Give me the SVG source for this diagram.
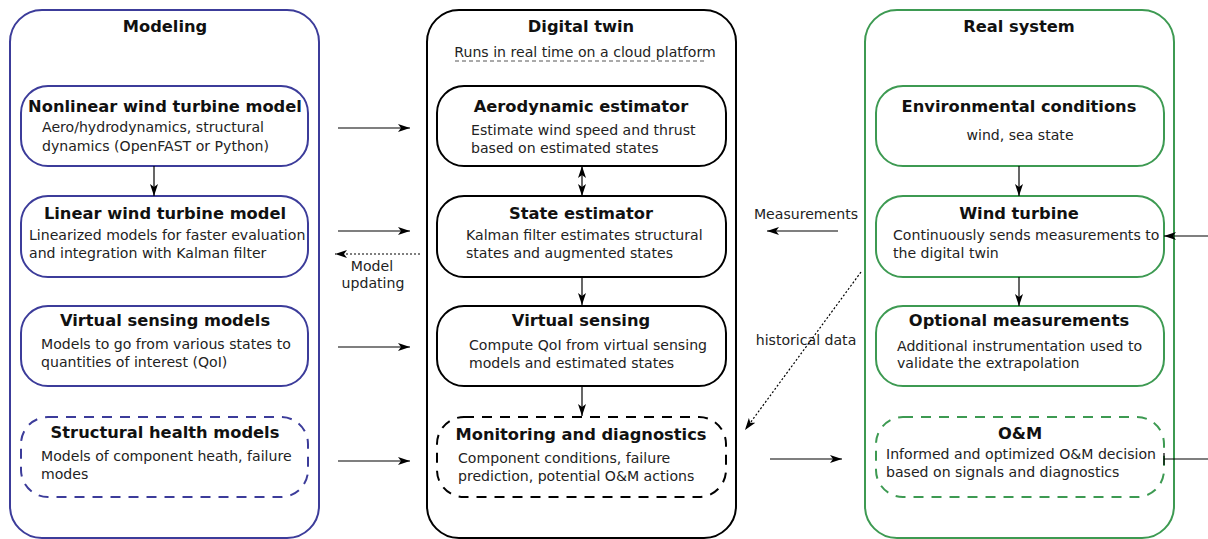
<svg xmlns="http://www.w3.org/2000/svg" width="1208" height="539" viewBox="0 0 1208 539">
<style>
text{font-family:"DejaVu Sans","Liberation Sans",sans-serif;fill:#111}
.h{font-weight:bold;font-size:16.3px;text-anchor:middle}
.b{font-size:14.1px;fill:#222}
.c{text-anchor:middle}
.blue{fill:none;stroke:#3c3c9a;stroke-width:2}
.green{fill:none;stroke:#3d9a52;stroke-width:2}
.black{fill:none;stroke:#000;stroke-width:2}
.dash{stroke-dasharray:10,8}
.ln{fill:none;stroke:#000;stroke-width:1.2}
.dot{stroke-dasharray:2,2}
</style>
<defs>
<marker id="ah" viewBox="0 0 12 8" refX="12" refY="4" markerWidth="12" markerHeight="8" markerUnits="userSpaceOnUse" orient="auto-start-reverse">
<path d="M0,0 L12,4 L0,8 L3,4 z" fill="#000"/>
</marker>
</defs>
<rect width="1208" height="539" fill="#fff"/>
<g id="modeling">
<rect class="blue" x="10" y="10" width="309" height="528" rx="32"/>
<text class="h" x="165" y="32">Modeling</text>
</g>
<g id="nonlinear">
<rect class="blue" x="21" y="86" width="287" height="80" rx="27"/>
<text class="h" x="165" y="112">Nonlinear wind turbine model</text>
<text class="b" x="42" y="132">Aero/hydrodynamics, structural</text>
<text class="b" x="42" y="151">dynamics (OpenFAST or Python)</text>
</g>
<g id="linear">
<rect class="blue" x="21" y="196" width="287" height="81" rx="27"/>
<text class="h" x="165" y="219">Linear wind turbine model</text>
<text class="b" x="29" y="240">Linearized models for faster evaluation</text>
<text class="b" x="29" y="258">and integration with Kalman filter</text>
</g>
<g id="vsmodels">
<rect class="blue" x="21" y="306" width="287" height="80" rx="27"/>
<text class="h" x="165" y="326">Virtual sensing models</text>
<text class="b" x="41" y="349">Models to go from various states to</text>
<text class="b" x="41" y="367">quantities of interest (QoI)</text>
</g>
<g id="shm">
<rect class="blue dash" x="21" y="417" width="287" height="80" rx="27"/>
<text class="h" x="165" y="438">Structural health models</text>
<text class="b" x="41" y="461">Models of component heath, failure</text>
<text class="b" x="41" y="479">modes</text>
</g>
<g id="digitaltwin">
<rect class="black" x="427" y="10" width="309" height="528" rx="32"/>
<text class="h" x="581" y="32">Digital twin</text>
<text class="b c" x="585" y="57">Runs in real time on a cloud platform</text>
<line x1="455" y1="61" x2="706" y2="61" stroke="#555" stroke-width="1" stroke-dasharray="4,3"/>
</g>
<g id="aero">
<rect class="black" x="437" y="86" width="289" height="80" rx="27"/>
<text class="h" x="581" y="112">Aerodynamic estimator</text>
<text class="b" x="471" y="135">Estimate wind speed and thrust</text>
<text class="b" x="471" y="153">based on estimated states</text>
</g>
<g id="state">
<rect class="black" x="437" y="196" width="289" height="81" rx="27"/>
<text class="h" x="581" y="219">State estimator</text>
<text class="b" x="466" y="240">Kalman filter estimates structural</text>
<text class="b" x="466" y="258">states and augmented states</text>
</g>
<g id="vsensing">
<rect class="black" x="437" y="306" width="289" height="80" rx="27"/>
<text class="h" x="581" y="326">Virtual sensing</text>
<text class="b" x="469" y="350">Compute QoI from virtual sensing</text>
<text class="b" x="469" y="368">models and estimated states</text>
</g>
<g id="monitoring">
<rect class="black dash" x="437" y="417" width="289" height="80" rx="27"/>
<text class="h" x="581" y="440">Monitoring and diagnostics</text>
<text class="b" x="458" y="463">Component conditions, failure</text>
<text class="b" x="458" y="481">prediction, potential O&amp;M actions</text>
</g>
<g id="realsystem">
<rect class="green" x="865" y="10" width="309" height="528" rx="32"/>
<text class="h" x="1019" y="32">Real system</text>
</g>
<g id="env">
<rect class="green" x="876" y="86" width="288" height="80" rx="27"/>
<text class="h" x="1019" y="112">Environmental conditions</text>
<text class="b c" x="1020" y="140">wind, sea state</text>
</g>
<g id="turbine">
<rect class="green" x="876" y="196" width="288" height="81" rx="27"/>
<text class="h" x="1019" y="219">Wind turbine</text>
<text class="b" x="893" y="240">Continuously sends measurements to</text>
<text class="b" x="893" y="258">the digital twin</text>
</g>
<g id="optional">
<rect class="green" x="876" y="306" width="288" height="80" rx="27"/>
<text class="h" x="1019" y="326">Optional measurements</text>
<text class="b" x="897" y="351">Additional instrumentation used to</text>
<text class="b" x="897" y="368">validate the extrapolation</text>
</g>
<g id="om">
<rect class="green dash" x="876" y="417" width="288" height="80" rx="27"/>
<text class="h" x="1020" y="439">O&amp;M</text>
<text class="b" x="886" y="459">Informed and optimized O&amp;M decision</text>
<text class="b" x="886" y="477">based on signals and diagnostics</text>
</g>
<g id="connectors">
<line class="ln" x1="154" y1="166" x2="154" y2="196" marker-end="url(#ah)"/>
<line class="ln" x1="338" y1="128" x2="410" y2="128" marker-end="url(#ah)"/>
<line class="ln" x1="338" y1="231" x2="410" y2="231" marker-end="url(#ah)"/>
<line class="ln dot" x1="420" y1="254" x2="335" y2="254" marker-end="url(#ah)"/>
<line class="ln" x1="338" y1="347" x2="410" y2="347" marker-end="url(#ah)"/>
<line class="ln" x1="338" y1="461" x2="410" y2="461" marker-end="url(#ah)"/>
<text class="b c" x="372" y="271">Model</text>
<text class="b c" x="373" y="288">updating</text>
<line class="ln" x1="582" y1="166" x2="582" y2="196" marker-start="url(#ah)" marker-end="url(#ah)"/>
<line class="ln" x1="582" y1="277" x2="582" y2="305" marker-end="url(#ah)"/>
<line class="ln" x1="582" y1="386" x2="582" y2="416" marker-end="url(#ah)"/>
<line class="ln" x1="838" y1="231" x2="767" y2="231" marker-end="url(#ah)"/>
<text class="b c" x="806" y="219">Measurements</text>
<text class="b c" x="806" y="345">historical data</text>
<line class="ln dot" x1="861" y1="272" x2="745" y2="430" marker-end="url(#ah)"/>
<line class="ln" x1="770" y1="459" x2="842" y2="459" marker-end="url(#ah)"/>
<line class="ln" x1="1019" y1="166" x2="1019" y2="196" marker-end="url(#ah)"/>
<line class="ln" x1="1019" y1="277" x2="1019" y2="306" marker-end="url(#ah)"/>
<line class="ln" x1="1208" y1="236" x2="1164" y2="236" marker-end="url(#ah)"/>
<line class="ln" x1="1164" y1="459" x2="1208" y2="459"/>
<line class="ln" x1="1164" y1="453" x2="1164" y2="465"/>
</g>
</svg>
